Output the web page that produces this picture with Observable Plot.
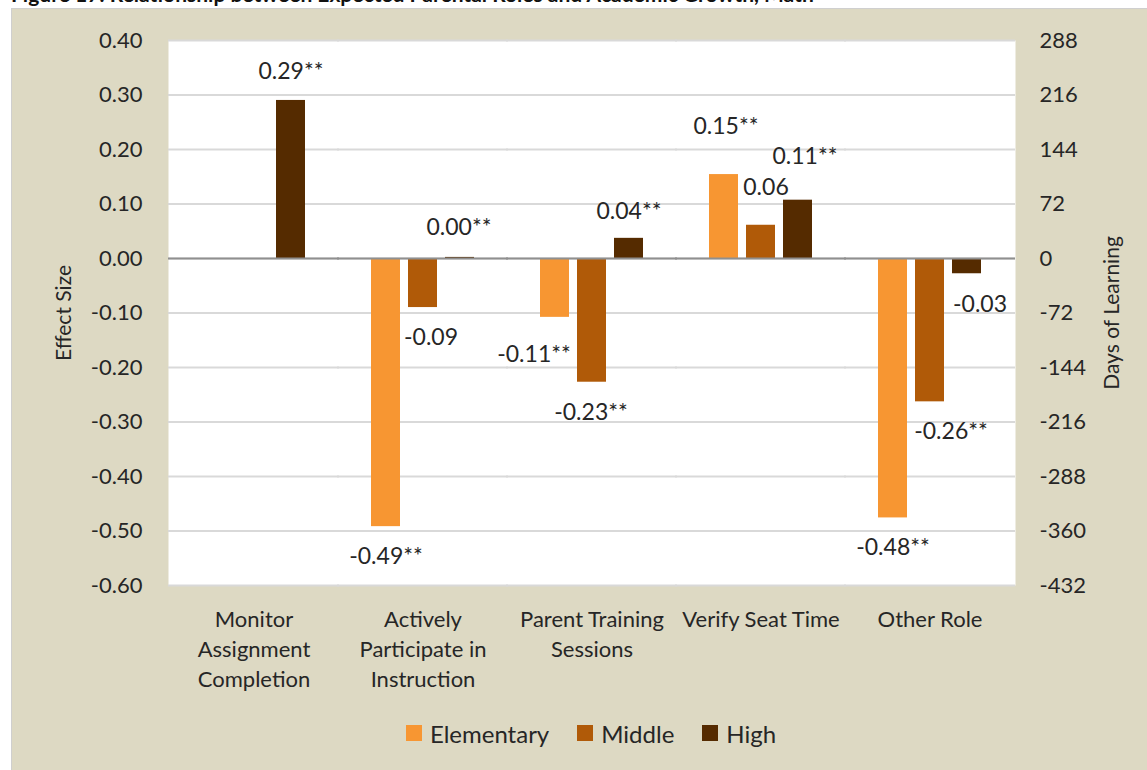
<!DOCTYPE html>
<html>
<head>
<meta charset="utf-8">
<script src="https://cdn.jsdelivr.net/npm/d3@7"></script>
<script src="https://cdn.jsdelivr.net/npm/@observablehq/plot@0.6"></script>
<style>
  html, body { margin: 0; padding: 0; background: #ffffff; width: 1147px; height: 770px; overflow: hidden; font-family: Lato, "Noto Sans", sans-serif; }
  #title { position: absolute; left: 11px; top: 0; width: 1136px; height: 8px; overflow: hidden; }
  #title span { position: absolute; left: 0; top: -17px; font-size: 21px; line-height: 21px; font-weight: bold; color: #111; white-space: nowrap; }
  #panel { position: absolute; left: 11px; top: 8px; width: 1135px; height: 762px; background: #DDD9C3; border-left: 1px solid #cfcfcf; border-top: 1px solid #cfcfcf; }
  #chart { position: absolute; left: 0; top: -1px; }
  #legend { position: absolute; left: 155px; width: 848px; top: 708px; text-align: center; font-size: 24px; color: #262626; white-space: nowrap; }
  .item { display: inline-flex; align-items: center; margin: 0 14px; }
  .sw { display: inline-block; width: 16px; height: 16px; margin-right: 8px; }
</style>
</head>
<body>
<div id="title"><span>Figure 17: Relationship between Expected Parental Roles and Academic Growth, Math</span></div>
<div id="panel">
  <div id="chart"></div>
  <div id="legend"></div>
</div>
<script>
// ---- data ----
const categories = ["Monitor Assignment Completion", "Actively Participate in Instruction", "Parent Training Sessions", "Verify Seat Time", "Other Role"];
const categoryLabels = ["Monitor\nAssignment\nCompletion", "Actively\nParticipate in\nInstruction", "Parent Training\nSessions", "Verify Seat Time", "Other Role"];
const series = ["Elementary", "Middle", "High"];
const colors = ["#F79632", "#B05A08", "#552B00"];
const elementary = [null, -0.492, -0.108, 0.154, -0.476];
const middle = [null, -0.090, -0.227, 0.061, -0.263];
const high = [0.290, 0.002, 0.037, 0.107, -0.028];
const elementaryLabels = [null, "-0.49**", "-0.11**", "0.15**", "-0.48**"];
const middleLabels = [null, "-0.09", "-0.23**", "0.06", "-0.26**"];
const highLabels = ["0.29**", "0.00**", "0.04**", "0.11**", "-0.03"];
const yTicks = [0.4, 0.3, 0.2, 0.1, 0, -0.1, -0.2, -0.3, -0.4, -0.5, -0.6];
const yTickLabels = ["0.40", "0.30", "0.20", "0.10", "0.00", "-0.10", "-0.20", "-0.30", "-0.40", "-0.50", "-0.60"];
const dayTickLabels = ["288", "216", "144", "72", "0", "-72", "-144", "-216", "-288", "-360", "-432"];

// label nudges (style: extra pixel offsets of the value labels)
const nudgeDx = [[0, 0, -21, 2, 0], [0, 8, -1, 5, 21], [0, -1, 0, 7, 13]];
const nudgeDy = [[0, 1, 8, -19, 1], [0, 1, 1, -9, 1], [0, -1, 2, -15, 2]];

const valuesBySeries = [elementary, middle, high];
const labelsBySeries = [elementaryLabels, middleLabels, highLabels];
const rows = [];
categories.forEach((c, i) => {
  series.forEach((s, j) => {
    const v = valuesBySeries[j][i];
    if (v == null) return;
    rows.push({category: c, series: s, value: v, label: labelsBySeries[j][i],
               dx: nudgeDx[j][i], dy: (v >= 0 ? -29 : 29) + nudgeDy[j][i]});
  });
});

const labelMarks = rows.map(r => Plot.text([r], {
  fx: "category", x: "series", y: "value", text: "label",
  dx: r.dx, dy: r.dy, fontSize: 23, fill: "#262626", lineAnchor: "middle"
}));

const chart = Plot.plot({
  width: 1135,
  height: 700,
  marginTop: 32,
  marginBottom: 123,
  marginLeft: 155,
  marginRight: 132,
  style: {fontFamily: "Lato, 'Noto Sans', sans-serif", fontSize: "22px", color: "#262626", background: "transparent", overflow: "visible"},
  fx: {domain: categories, paddingInner: 0, paddingOuter: 0, label: null, axis: null},
  x: {domain: series, paddingInner: 0.213, paddingOuter: 0.868, axis: null},
  y: {domain: [-0.6, 0.4], axis: null},
  color: {domain: series, range: colors},
  marks: [
    Plot.frame({fill: "white", stroke: null, insetLeft: -1, insetRight: -1}),
    Plot.gridY(yTicks, {stroke: "#D9D9D9", strokeOpacity: 1, strokeWidth: 2, insetLeft: -1, insetRight: -1}),
    Plot.barY(rows, {fx: "category", x: "series", y: "value", fill: "series"}),
    Plot.ruleY([0], {stroke: "#8F8F8F", strokeWidth: 2, insetLeft: -1, insetRight: -1}),
    Plot.axisY(yTicks, {anchor: "left", tickSize: 0, tickPadding: 27, fontSize: 22,
      tickFormat: d => yTickLabels[yTicks.indexOf(d)], label: null}),
    Plot.axisY(yTicks, {anchor: "right", tickSize: 0, tickPadding: 25, fontSize: 22,
      tickFormat: d => dayTickLabels[yTicks.indexOf(d)], label: null}),
    Plot.axisY({anchor: "left", ticks: [], tickSize: 0, label: "Effect Size", labelAnchor: "center", labelOffset: 113, labelArrow: "none", fontSize: 21}),
    Plot.axisY({anchor: "right", ticks: [], tickSize: 0, label: "Days of Learning", labelAnchor: "center", labelOffset: 104, labelArrow: "none", fontSize: 21}),
    Plot.axisFx({anchor: "bottom", tickSize: 0, tickPadding: 20, fontSize: 22, lineHeight: 1.364,
      tickFormat: d => categoryLabels[categories.indexOf(d)], label: null}),
    ...labelMarks
  ]
});
document.getElementById("chart").appendChild(chart);

const legend = document.getElementById("legend");
series.forEach((s, j) => {
  const item = document.createElement("span");
  item.className = "item";
  const sw = document.createElement("span");
  sw.className = "sw";
  sw.style.background = colors[j];
  item.appendChild(sw);
  item.appendChild(document.createTextNode(s));
  legend.appendChild(item);
});
</script>
</body>
</html>
